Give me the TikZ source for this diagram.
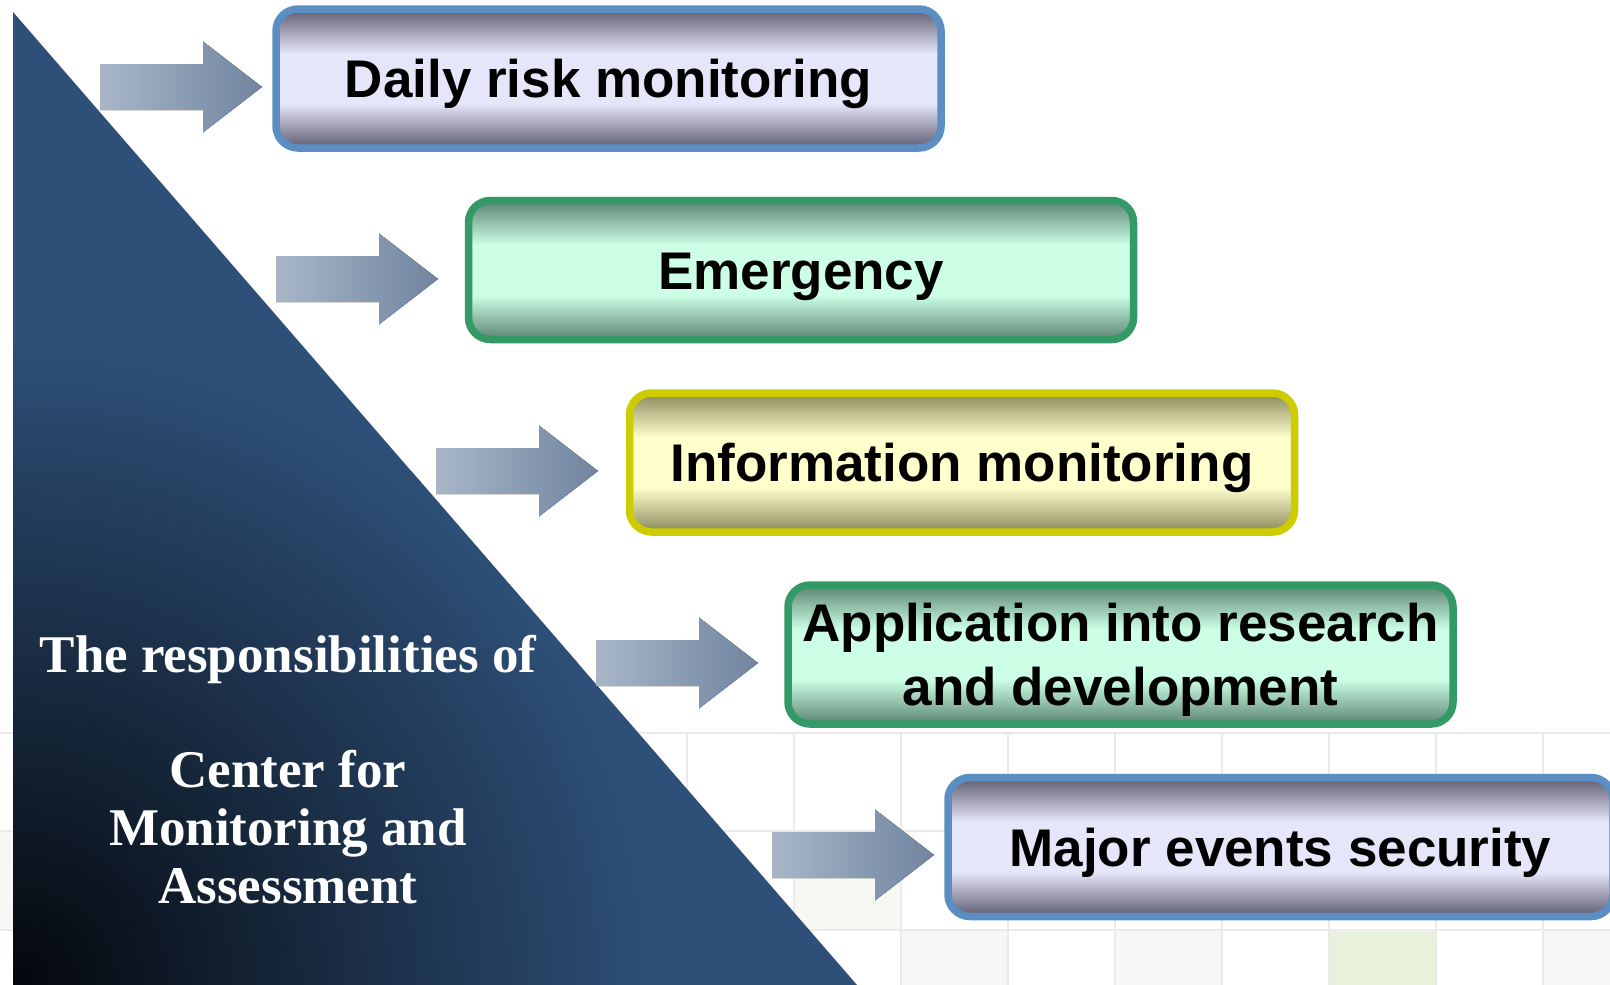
\documentclass[tikz,border=0pt]{standalone}
\usepackage{fontspec}
\setmainfont{Liberation Serif}
\newfontfamily\boxfont{Liberation Sans}

\definecolor{triblue}{HTML}{2E5078}
\definecolor{tridark}{HTML}{04070C}
\definecolor{arrlight}{HTML}{A8B6C7}
\definecolor{arrdark}{HTML}{7085A0}
\definecolor{lavline}{HTML}{5B8FC4}
\definecolor{lavdark}{HTML}{5E5B70}
\definecolor{lavlight}{HTML}{E6E6FA}
\definecolor{grnline}{HTML}{339966}
\definecolor{grndark}{HTML}{5C8470}
\definecolor{grnlight}{HTML}{CCFFE6}
\definecolor{ylwline}{HTML}{CCCC00}
\definecolor{ylwdark}{HTML}{8A895C}
\definecolor{ylwlight}{HTML}{FFFFCC}
\definecolor{gridline}{HTML}{EAEAEA}
\definecolor{gridgray}{HTML}{F7F7F7}
\definecolor{gridgreen}{HTML}{E8F1DC}

\pgfdeclareverticalshading{lavshade}{100bp}{color(0bp)=(lavdark); color(25bp)=(lavdark); color(41bp)=(lavlight); color(59bp)=(lavlight); color(75bp)=(lavdark); color(100bp)=(lavdark)}
\pgfdeclareverticalshading{grnshade}{100bp}{color(0bp)=(grndark); color(25bp)=(grndark); color(41bp)=(grnlight); color(59bp)=(grnlight); color(75bp)=(grndark); color(100bp)=(grndark)}
\pgfdeclareverticalshading{ylwshade}{100bp}{color(0bp)=(ylwdark); color(25bp)=(ylwdark); color(41bp)=(ylwlight); color(59bp)=(ylwlight); color(75bp)=(ylwdark); color(100bp)=(ylwdark)}

\tikzset{
  box/.style={draw, line width=7.5pt, rounded corners=22pt, minimum width=665pt,
    minimum height=139pt, inner sep=0pt, font=\boxfont\bfseries\fontsize{53}{64}\selectfont},
  oneline/.style={text height=38pt, text depth=0pt},
  lavbox/.style={box, draw=lavline, shade, shading=lavshade},
  grnbox/.style={box, draw=grnline, shade, shading=grnshade},
  ylwbox/.style={box, draw=ylwline, shade, shading=ylwshade},
  blockarr/.style={left color=arrlight, right color=arrdark},
}

\begin{document}
\begin{tikzpicture}[x=1pt, y=-1pt]
  \useasboundingbox (0,0) rectangle (1610,985);
  \clip (0,0) rectangle (1610,985);

  % background grid
  \fill[gridgray] (0,831) rectangle (13,930);
  \fill[gridgray] (901,930) rectangle (1008,985);
  \fill[gridgray] (1115,930) rectangle (1222,985);
  \fill[gridgray] (1543,930) rectangle (1610,985);
  \fill[gridgreen] (1329,930) rectangle (1436,985);
  \fill[gridgreen!40] (794,831) rectangle (901,930);
  \foreach \x in {45,152,...,1610}
    \draw[gridline, line width=2pt] (\x,733) -- (\x,985);
  \foreach \y in {733,831,930}
    \draw[gridline, line width=2pt] (0,\y) -- (1610,\y);

  % triangle
  \begin{scope}
    \clip (13,12) -- (13,985) -- (857,985) -- cycle;
    \fill[triblue] (0,0) rectangle (900,985);
    \shade[inner color=tridark, outer color=triblue] (13,985) circle (650pt);
  \end{scope}
  \node[font=\bfseries\fontsize{53}{58}\selectfont, text=white, align=center, inner sep=0pt]
    (resp) at (288,770) {The responsibilities of\\[57pt]Center for\\Monitoring and\\Assessment};

  % arrows
  \foreach \x/\y in {100/87, 276/279, 436/471, 596/663, 772/855}
    \fill[blockarr] (\x,\y-23) -- (\x+103,\y-23) -- (\x+103,\y-45.5) -- (\x+162,\y)
      -- (\x+103,\y+45.5) -- (\x+103,\y+23) -- (\x,\y+23) -- cycle;

  % boxes
  \node[lavbox, oneline] (daily) at (608.5,78.5) {Daily risk monitoring};
  \node[grnbox, oneline] (emerg) at (801,270) {Emergency};
  \node[ylwbox, oneline] (info) at (962,462.5) {Information monitoring};
  \node[grnbox, align=center, text depth=0pt] (appl) at (1120.5,654.5) {Application into research\\and development};
  \node[lavbox, oneline] (major) at (1280.5,847) {Major events security};
\end{tikzpicture}
\end{document}
